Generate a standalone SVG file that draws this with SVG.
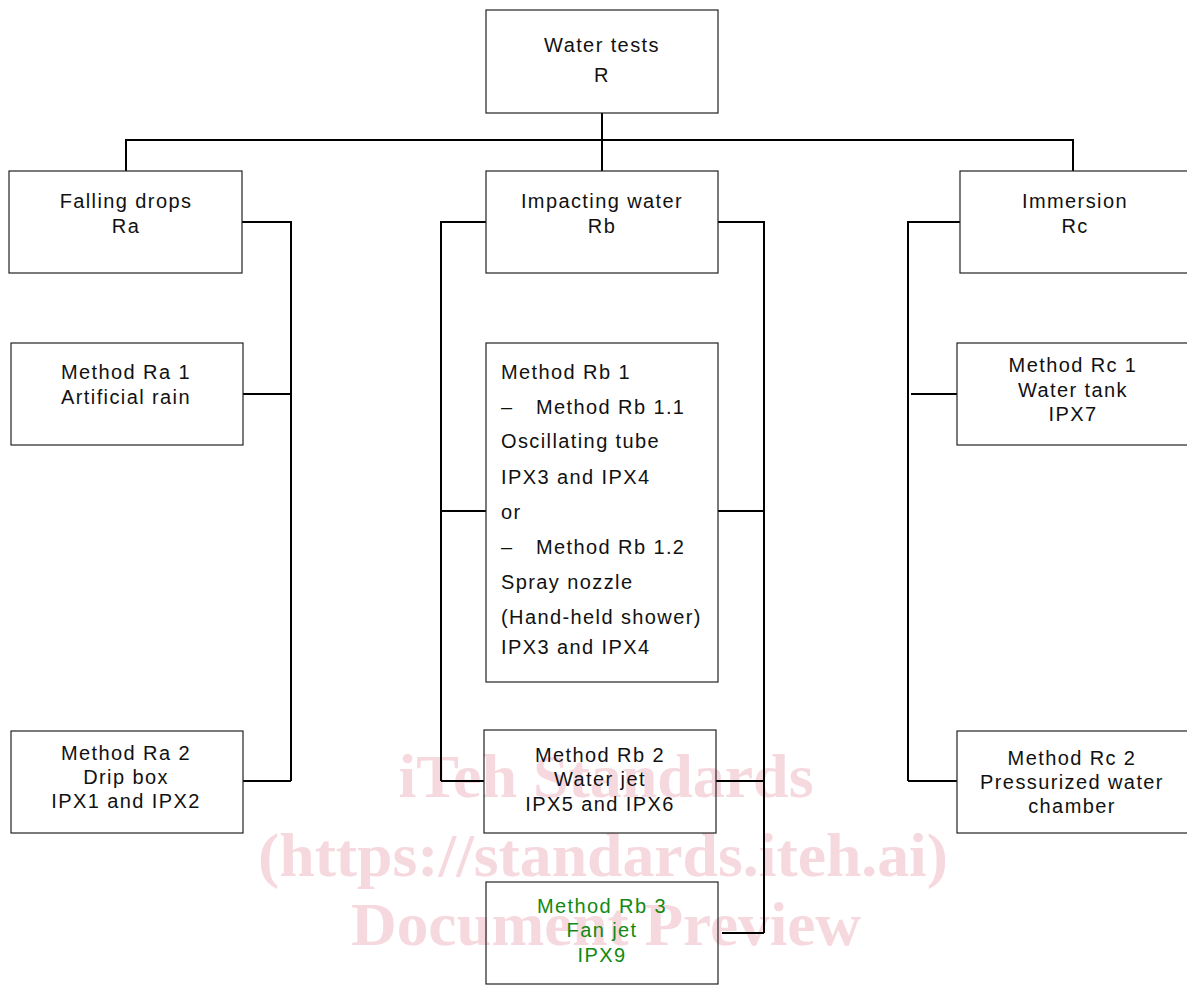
<svg xmlns="http://www.w3.org/2000/svg" width="1187" height="985" viewBox="0 0 1187 985">
<style>
.box{fill:none;stroke:#222;stroke-width:1.2}
.t{font-family:"Liberation Sans",Arial,sans-serif;font-size:20px;letter-spacing:1.4px;fill:#111;text-anchor:middle}
.l{text-anchor:start}
.g{fill:#118a11}
.wm{font-family:"Liberation Serif","Times New Roman",serif;font-weight:bold;font-size:62px;fill:#f6d8df;text-anchor:middle}
#connectors path{fill:none;stroke:#000;stroke-width:2}
</style>
<rect width="1187" height="985" fill="#fff"/>
<g id="watermark">
<text class="wm" x="606" y="797" textLength="415" lengthAdjust="spacingAndGlyphs">iTeh Standards</text>
<text class="wm" x="603" y="876" textLength="690" lengthAdjust="spacingAndGlyphs">(https://standards.iteh.ai)</text>
<text class="wm" x="606" y="945" textLength="510" lengthAdjust="spacingAndGlyphs">Document Preview</text>
</g>
<g id="connectors">
<path d="M602 113V171M126 171V140H1073V171"/>
<path d="M242 222H291V781M243 394H291M243 781H291"/>
<path d="M486 222H441V781M441 511H486M441 781H484"/>
<path d="M718 222H764V933M718 511H764M716 781H764M722 933H764"/>
<path d="M960 222H908V781M911 394H957M908 781H957"/>
</g>
<g id="water-tests">
<rect class="box" x="486" y="10" width="232" height="103"/>
<text class="t" x="602" y="52">Water tests</text>
<text class="t" x="602" y="82">R</text>
</g>
<g id="falling-drops">
<rect class="box" x="9" y="171" width="233" height="102"/>
<text class="t" x="126" y="208">Falling drops</text>
<text class="t" x="126" y="233">Ra</text>
</g>
<g id="impacting-water">
<rect class="box" x="486" y="171" width="232" height="102"/>
<text class="t" x="602" y="208">Impacting water</text>
<text class="t" x="602" y="233">Rb</text>
</g>
<g id="immersion">
<rect class="box" x="960" y="171" width="230" height="102"/>
<text class="t" x="1075" y="208">Immersion</text>
<text class="t" x="1075" y="233">Rc</text>
</g>
<g id="method-ra1">
<rect class="box" x="11" y="343" width="232" height="102"/>
<text class="t" x="126" y="379">Method Ra 1</text>
<text class="t" x="126" y="404">Artificial rain</text>
</g>
<g id="method-ra2">
<rect class="box" x="11" y="731" width="232" height="102"/>
<text class="t" x="126" y="760">Method Ra 2</text>
<text class="t" x="126" y="784">Drip box</text>
<text class="t" x="126" y="808">IPX1 and IPX2</text>
</g>
<g id="method-rb1">
<rect class="box" x="486" y="343" width="232" height="339"/>
<text class="t l" x="501" y="379">Method Rb 1</text>
<text class="t l" x="501" y="414">–</text>
<text class="t l" x="536" y="414">Method Rb 1.1</text>
<text class="t l" x="501" y="448">Oscillating tube</text>
<text class="t l" x="501" y="484">IPX3 and IPX4</text>
<text class="t l" x="501" y="519">or</text>
<text class="t l" x="501" y="554">–</text>
<text class="t l" x="536" y="554">Method Rb 1.2</text>
<text class="t l" x="501" y="589">Spray nozzle</text>
<text class="t l" x="501" y="624">(Hand-held shower)</text>
<text class="t l" x="501" y="654">IPX3 and IPX4</text>
</g>
<g id="method-rb2">
<rect class="box" x="484" y="730" width="232" height="103"/>
<text class="t" x="600" y="762">Method Rb 2</text>
<text class="t" x="600" y="786">Water jet</text>
<text class="t" x="600" y="811">IPX5 and IPX6</text>
</g>
<g id="method-rb3">
<rect class="box" x="486" y="882" width="232" height="102"/>
<text class="t g" x="602" y="913">Method Rb 3</text>
<text class="t g" x="602" y="937">Fan jet</text>
<text class="t g" x="602" y="962">IPX9</text>
</g>
<g id="method-rc1">
<rect class="box" x="957" y="343" width="233" height="102"/>
<text class="t" x="1073" y="372">Method Rc 1</text>
<text class="t" x="1073" y="397">Water tank</text>
<text class="t" x="1073" y="421">IPX7</text>
</g>
<g id="method-rc2">
<rect class="box" x="957" y="731" width="233" height="102"/>
<text class="t" x="1072" y="765">Method Rc 2</text>
<text class="t" x="1072" y="789">Pressurized water</text>
<text class="t" x="1072" y="813">chamber</text>
</g>
</svg>
